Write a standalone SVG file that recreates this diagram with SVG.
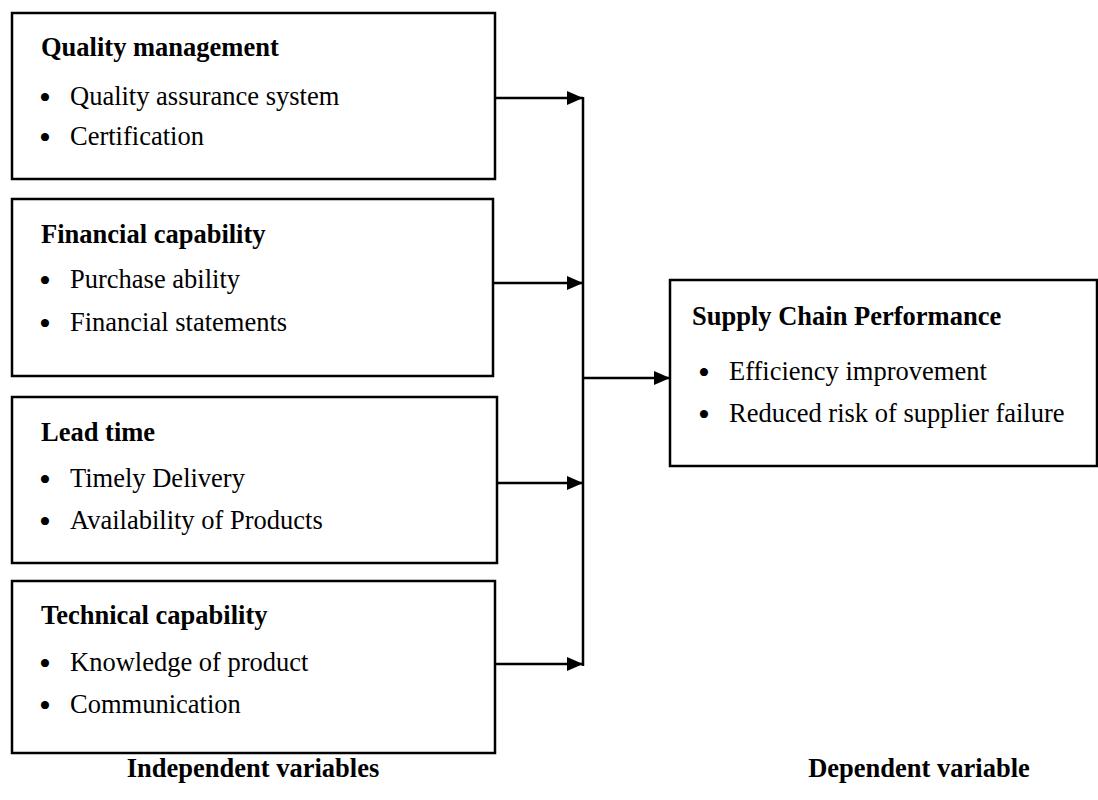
<svg xmlns="http://www.w3.org/2000/svg" width="1098" height="800" viewBox="0 0 1098 800">
<style>
.box{fill:#fff;stroke:#000;stroke-width:2.5}
.t{font-family:"Liberation Serif","Times New Roman",serif;font-size:26.5px;fill:#000}
.b{font-weight:bold}
.d{font-family:"Liberation Serif","Times New Roman",serif;font-size:34px;fill:#000}
.c{fill:none;stroke:#000;stroke-width:2.5}
</style>
<defs>
<marker id="ah" markerWidth="16" markerHeight="14" refX="16" refY="7" orient="auto" markerUnits="userSpaceOnUse">
<path d="M0,0 L16,7 L0,14 Z" fill="#000"/>
</marker>
</defs>
<rect width="1098" height="800" fill="#fff"/>
<g id="quality">
<rect class="box" x="12" y="13" width="483" height="166"/>
<text class="t b" x="41" y="56">Quality management</text>
<text class="d" x="39" y="109">•</text><text class="t" x="70" y="105">Quality assurance system</text>
<text class="d" x="39" y="149">•</text><text class="t" x="70" y="145">Certification</text>
</g>
<g id="financial">
<rect class="box" x="12" y="199" width="481" height="177"/>
<text class="t b" x="41" y="243">Financial capability</text>
<text class="d" x="39" y="292">•</text><text class="t" x="70" y="288">Purchase ability</text>
<text class="d" x="39" y="335">•</text><text class="t" x="70" y="331">Financial statements</text>
</g>
<g id="leadtime">
<rect class="box" x="12" y="397" width="485" height="166"/>
<text class="t b" x="41" y="441">Lead time</text>
<text class="d" x="39" y="491">•</text><text class="t" x="70" y="487">Timely Delivery</text>
<text class="d" x="39" y="533">•</text><text class="t" x="70" y="529">Availability of Products</text>
</g>
<g id="technical">
<rect class="box" x="12" y="581" width="483" height="172"/>
<text class="t b" x="41" y="624">Technical capability</text>
<text class="d" x="39" y="675">•</text><text class="t" x="70" y="671">Knowledge of product</text>
<text class="d" x="39" y="717">•</text><text class="t" x="70" y="713">Communication</text>
</g>
<g id="performance">
<rect class="box" x="670" y="280" width="427" height="186"/>
<text class="t b" x="692" y="325">Supply Chain Performance</text>
<text class="d" x="698" y="384">•</text><text class="t" x="729" y="380">Efficiency improvement</text>
<text class="d" x="698" y="426">•</text><text class="t" x="729" y="422">Reduced risk of supplier failure</text>
</g>
<g id="connectors">
<line class="c" x1="495" y1="98" x2="583" y2="98" marker-end="url(#ah)"/>
<line class="c" x1="493" y1="283" x2="583" y2="283" marker-end="url(#ah)"/>
<line class="c" x1="497" y1="483" x2="583" y2="483" marker-end="url(#ah)"/>
<line class="c" x1="495" y1="664" x2="583" y2="664" marker-end="url(#ah)"/>
<line class="c" x1="583" y1="97" x2="583" y2="666"/>
<line class="c" x1="583" y1="378" x2="670" y2="378" marker-end="url(#ah)"/>
</g>
<g id="labels">
<text class="t b" x="253" y="777" text-anchor="middle">Independent variables</text>
<text class="t b" x="919" y="777" text-anchor="middle">Dependent variable</text>
</g>
</svg>
